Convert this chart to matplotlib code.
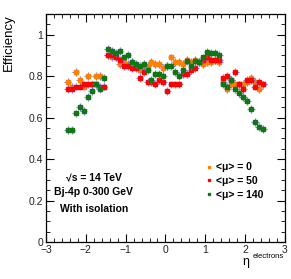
import numpy as np
import matplotlib
matplotlib.use("Agg")
import matplotlib.pyplot as plt
from matplotlib.lines import Line2D
from matplotlib.ticker import MultipleLocator

plt.rcParams['font.family'] = ['Liberation Sans', 'DejaVu Sans']

# eta bin centres (0.1 wide bins)
eta = np.round(np.arange(-2.45, 2.46, 0.1), 2)

eff_mu0 = [0.77, 0.75, 0.82, 0.78, 0.75, 0.80, 0.76, 0.80, 0.80, 0.75,
           0.90, 0.89, 0.89, 0.86, 0.87, 0.86, 0.87, 0.85, 0.83, 0.84,
           0.85, 0.87, 0.86, 0.86, 0.84, 0.85, 0.89, 0.87, 0.87, 0.86,
           0.88, 0.87, 0.88, 0.87, 0.86, 0.87, 0.87, 0.88, 0.87, 0.77,
           0.74, 0.76, 0.76, 0.76, 0.76, 0.77, 0.79, 0.77, 0.74, 0.76]
eff_mu50 = [0.74, 0.74, 0.75, 0.75, 0.76, 0.76, 0.76, 0.76, 0.75, 0.75,
            0.90, 0.90, 0.89, 0.88, 0.85, 0.85, 0.84, 0.84, 0.79, 0.82,
            0.77, 0.77, 0.76, 0.78, 0.77, 0.73, 0.76, 0.76, 0.76, 0.81,
            0.81, 0.83, 0.84, 0.87, 0.88, 0.89, 0.88, 0.88, 0.88, 0.79,
            0.80, 0.78, 0.82, 0.76, 0.74, 0.78, 0.78, 0.75, 0.77, 0.76]
eff_mu140 = [0.54, 0.54, 0.62, 0.65, 0.63, 0.70, 0.73, 0.76, 0.74, 0.79,
             0.93, 0.92, 0.91, 0.92, 0.89, 0.90, 0.87, 0.86, 0.85, 0.86,
             0.83, 0.78, 0.81, 0.81, 0.80, 0.85, 0.85, 0.82, 0.80, 0.83,
             0.875, 0.85, 0.875, 0.87, 0.89, 0.915, 0.91, 0.91, 0.90, 0.76,
             0.75, 0.78, 0.74, 0.72, 0.70, 0.68, 0.64, 0.58, 0.555, 0.545]
err = 0.019

labels = ["<μ> = 0", "<μ> = 50", "<μ> = 140"]
colors = ["#ff8000", "#ff0000", "#117711"]

fig = plt.figure(figsize=(2.91, 2.79), dpi=100)
ax = fig.add_axes([0.158, 0.1326, 0.821, 0.8174])

for vals, col in zip([eff_mu0, eff_mu50, eff_mu140], colors):
    ax.errorbar(eta, vals, xerr=0.09, yerr=err, fmt='none', ecolor='#6a6ae6',
                elinewidth=0.9, capsize=0, alpha=0.85)
    ax.plot(eta, vals, ls='none', marker='s', ms=2.3, mfc=col, mec=col)

ax.set_xlim(-3, 3)
ax.set_ylim(0, 1.1)
ax.xaxis.set_major_locator(MultipleLocator(1))
ax.xaxis.set_minor_locator(MultipleLocator(0.2))
ax.yaxis.set_major_locator(MultipleLocator(0.2))
ax.yaxis.set_minor_locator(MultipleLocator(0.05))
ax.set_yticks([0, 0.2, 0.4, 0.6, 0.8, 1.0])
ax.set_yticklabels(["0", "0.2", "0.4", "0.6", "0.8", "1"])
ax.tick_params(which='both', direction='in', top=True, right=True, labelsize=7.5,
               labelcolor='#222222', pad=2)
ax.tick_params(which='major', length=6, width=0.8)
ax.tick_params(which='minor', length=3, width=0.6)
for s in ax.spines.values():
    s.set_linewidth(0.9)

fig.text(0.03, 0.95, "Efficiency", rotation=90, ha='center', va='top', fontsize=9.5)
fig.text(0.845, 0.061, "η", ha='center', va='center', fontsize=9)
fig.text(0.977, 0.081, "electrons", ha='right', va='center', fontsize=5.5)

ax.text(0.2, 0.285, "√s = 14 TeV", transform=ax.transAxes, ha='center', va='center',
        fontsize=7.5, fontweight='bold')
ax.text(0.2, 0.22, "Bj-4p 0-300 GeV", transform=ax.transAxes, ha='center', va='center',
        fontsize=7.5, fontweight='bold')
ax.text(0.2, 0.145, "With isolation", transform=ax.transAxes, ha='center', va='center',
        fontsize=7.5, fontweight='bold')

handles = [Line2D([], [], ls='none', marker='s', ms=2, color=c) for c in colors]
ax.legend(handles, labels, loc='upper left', bbox_to_anchor=(0.625, 0.39), frameon=False,
          handlelength=0.8, handletextpad=0.3, labelspacing=0.35,
          prop={'size': 7.5, 'weight': 'bold'})

fig.savefig("out.png", dpi=100)
